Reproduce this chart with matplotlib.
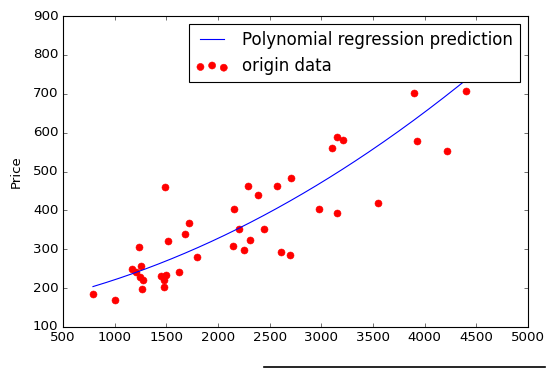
"""Polynomial regression of price against area, classic matplotlib look."""

import matplotlib

matplotlib.use("Agg")
import matplotlib.pyplot as plt
import numpy as np
from matplotlib.lines import Line2D

plt.style.use("classic")

# scatter data
AREA = [790, 1003, 1171, 1206, 1238, 1258, 1245, 1271, 1268, 1448, 1494, 1481,
        1481, 1490, 1519, 1626, 1684, 1723, 1797, 2148, 2158, 2206, 2255, 2293,
        2313, 2390, 2448, 2574, 2613, 2700, 2706, 2980, 3106, 3155, 3213, 3155,
        3552, 3900, 3926, 4219, 4400]
PRICE = [185, 169, 249, 241, 305, 257, 229, 221, 197, 231, 234, 221,
         202, 459, 321, 241, 338, 367, 280, 308, 403, 351, 298, 462,
         325, 439, 352, 462, 293, 284, 482, 403, 560, 588, 582, 392,
         418, 703, 578, 552, 708]

# quadratic prediction curve (x in thousands)
CURVE_COEF = [18.66, 50.42, 152.5]

XTICKS = [500, 1000, 1500, 2000, 2500, 3000, 3500, 4000, 4500, 5000]
YTICKS = [100, 200, 300, 400, 500, 600, 700, 800, 900]

x = np.array(AREA, dtype=float)
y = np.array(PRICE, dtype=float)
xs = np.linspace(x.min(), x.max(), 200)
ys = np.polyval(CURVE_COEF, xs / 1000)

fig = plt.figure(figsize=(555 / 80, 377 / 80), dpi=80, facecolor="white")
ax = fig.add_axes([63 / 555, 1 - 327 / 377, 465 / 555, 311 / 377])

ax.plot(xs, ys, color="blue", label="Polynomial regression prediction")
ax.scatter(x, y, s=40, c="red", edgecolors="red", linewidths=0.5,
           label="origin data")

ax.set_xlim(500, 5000)
ax.set_ylim(100, 900)
ax.set_xticks(XTICKS)
ax.set_yticks(YTICKS)
ax.set_ylabel("Price", labelpad=9)
ax.legend(loc="upper right", fontsize=15)

# stray rule at the bottom edge of the reference image
fig.add_artist(Line2D([264 / 555, 545 / 555], [1 - 366.5 / 377] * 2,
                      color="black", linewidth=1.5, transform=fig.transFigure))

fig.savefig("out.png", dpi=80, facecolor="white")
